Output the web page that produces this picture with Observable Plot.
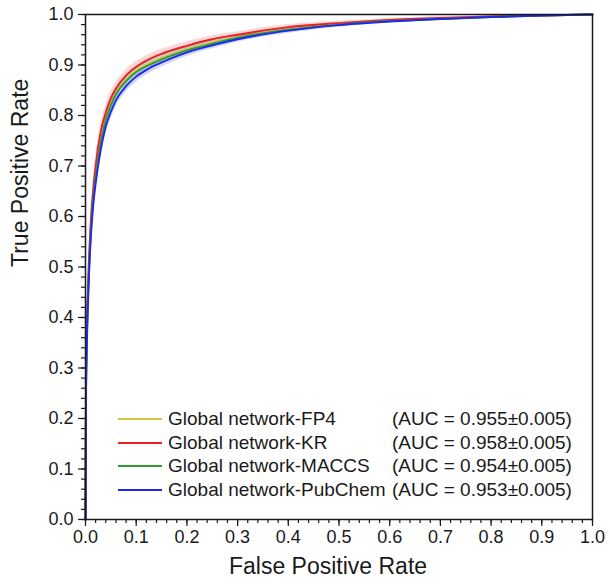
<!DOCTYPE html>
<html>
<head>
<meta charset="utf-8">
<script src="https://cdn.jsdelivr.net/npm/d3@7"></script>
<script src="https://cdn.jsdelivr.net/npm/@observablehq/plot@0.6"></script>
<style>
  html, body { margin: 0; padding: 0; background: #fff; }
  #wrap { position: relative; width: 610px; height: 588px; font-family: "Liberation Sans", Arial, sans-serif; }
  .row { position: absolute; height: 24px; line-height: 24px; font-size: 19px; color: #1a1a1a; white-space: nowrap; }
  .sw { position: absolute; top: 11px; height: 2px; width: 44px; }
  .lab { position: absolute; }
</style>
</head>
<body>
<div id="wrap"></div>
<script>
// ---- data ----
const fpr = [0, 0.001, 0.003, 0.006, 0.01, 0.015, 0.02, 0.03, 0.04, 0.05, 0.06, 0.08, 0.1, 0.125, 0.15, 0.2, 0.25, 0.3, 0.4, 0.5, 0.6, 0.7, 0.8, 0.9, 1.0];
const tprFP4     = [0, 0.25, 0.372, 0.472, 0.563, 0.633, 0.679, 0.748, 0.793, 0.822, 0.844, 0.870, 0.888, 0.902, 0.913, 0.931, 0.944, 0.955, 0.971, 0.980, 0.987, 0.991, 0.995, 0.998, 1.0];
const tprKR      = [0, 0.27, 0.39, 0.49, 0.58, 0.65, 0.70, 0.768, 0.806, 0.834, 0.853, 0.879, 0.896, 0.911, 0.922, 0.938, 0.951, 0.960, 0.975, 0.983, 0.989, 0.993, 0.996, 0.998, 1.0];
const tprMACCS   = [0, 0.248, 0.37, 0.47, 0.561, 0.631, 0.677, 0.746, 0.791, 0.820, 0.842, 0.868, 0.886, 0.900, 0.911, 0.929, 0.942, 0.954, 0.970, 0.980, 0.987, 0.991, 0.995, 0.998, 1.0];
const tprPubChem = [0, 0.24, 0.36, 0.46, 0.55, 0.62, 0.665, 0.732, 0.778, 0.807, 0.83, 0.858, 0.877, 0.893, 0.905, 0.925, 0.939, 0.951, 0.968, 0.979, 0.986, 0.991, 0.995, 0.998, 1.0];
const spread     = [0, 0.02, 0.025, 0.025, 0.022, 0.02, 0.018, 0.016, 0.015, 0.014, 0.013, 0.012, 0.011, 0.01, 0.009, 0.008, 0.007, 0.006, 0.005, 0.004, 0.003, 0.002, 0.002, 0.001, 0];

const seriesNames = ["Global network-FP4", "Global network-KR", "Global network-MACCS", "Global network-PubChem"];
const aucLabels = ["(AUC = 0.955\u00b10.005)", "(AUC = 0.958\u00b10.005)", "(AUC = 0.954\u00b10.005)", "(AUC = 0.953\u00b10.005)"];
const seriesValues = [tprFP4, tprKR, tprMACCS, tprPubChem];
const lineColors = ["#d2c43c", "#ee1c24", "#2e9a36", "#1e28f0"];
const bandColors = ["#e8e08a", "#f59aa0", "#8fcc93", "#8f96f5"];

const majorTicks = [0.0, 0.1, 0.2, 0.3, 0.4, 0.5, 0.6, 0.7, 0.8, 0.9, 1.0];
const minorTicks = d3.range(0, 51).map(i => i / 50);

const rows = seriesNames.flatMap((name, s) =>
  fpr.map((x, i) => ({series: name, fpr: x, tpr: seriesValues[s][i], lo: seriesValues[s][i] - spread[i], hi: Math.min(1, seriesValues[s][i] + spread[i])}))
);

const fmt = d3.format(".1f");

const marks = [];
seriesNames.forEach((name, s) => {
  marks.push(Plot.areaY(rows.filter(d => d.series === name), {x: "fpr", y1: "lo", y2: "hi", fill: bandColors[s], fillOpacity: 0.4, curve: "monotone-x"}));
});
seriesNames.forEach((name, s) => {
  marks.push(Plot.line(rows.filter(d => d.series === name), {x: "fpr", y: "tpr", stroke: lineColors[s], strokeWidth: 1.9, curve: "monotone-x"}));
});

const chart = Plot.plot({
  width: 610,
  height: 588,
  marginLeft: 85,
  marginRight: 18,
  marginTop: 14,
  marginBottom: 69,
  style: {fontFamily: "'Liberation Sans', Arial, sans-serif", color: "#1a1a1a", background: "#fff", overflow: "visible"},
  x: {domain: [0, 1]},
  y: {domain: [0, 1]},
  marks: [
    ...marks,
    Plot.axisX({ticks: minorTicks, tickSize: 4, text: null, label: null, strokeWidth: 1.2}),
    Plot.axisX({ticks: majorTicks, tickSize: 7, tickPadding: 4, tickFormat: fmt, fontSize: 18, label: null, strokeWidth: 1.2}),
    Plot.axisY({ticks: minorTicks, tickSize: 4, text: null, label: null, strokeWidth: 1.2}),
    Plot.axisY({ticks: majorTicks, tickSize: 7, tickPadding: 5, tickFormat: fmt, fontSize: 18, label: null, strokeWidth: 1.2}),
    Plot.frame({stroke: "#1a1a1a", strokeWidth: 1.5}),
    Plot.text(["False Positive Rate"], {frameAnchor: "bottom", dy: 54, dx: -11, fontSize: 23, text: d => d}),
    Plot.text(["True Positive Rate"], {frameAnchor: "left", dx: -65, rotate: -90, fontSize: 23, text: d => d})
  ]
});

const wrap = document.getElementById("wrap");
wrap.appendChild(chart);

// legend (inside plot area, lower right)
const legendTop = 407, rowStep = 23.6;
seriesNames.forEach((name, s) => {
  const row = document.createElement("div");
  row.className = "row";
  row.style.left = "0px";
  row.style.top = (legendTop + s * rowStep) + "px";
  row.style.width = "600px";
  const sw = document.createElement("div");
  sw.className = "sw";
  sw.style.left = "118px";
  sw.style.background = lineColors[s];
  const t1 = document.createElement("span");
  t1.className = "lab";
  t1.style.left = "168px";
  t1.textContent = name;
  const t2 = document.createElement("span");
  t2.className = "lab";
  t2.style.left = "392px";
  t2.textContent = aucLabels[s];
  row.appendChild(sw); row.appendChild(t1); row.appendChild(t2);
  wrap.appendChild(row);
});
</script>
</body>
</html>
